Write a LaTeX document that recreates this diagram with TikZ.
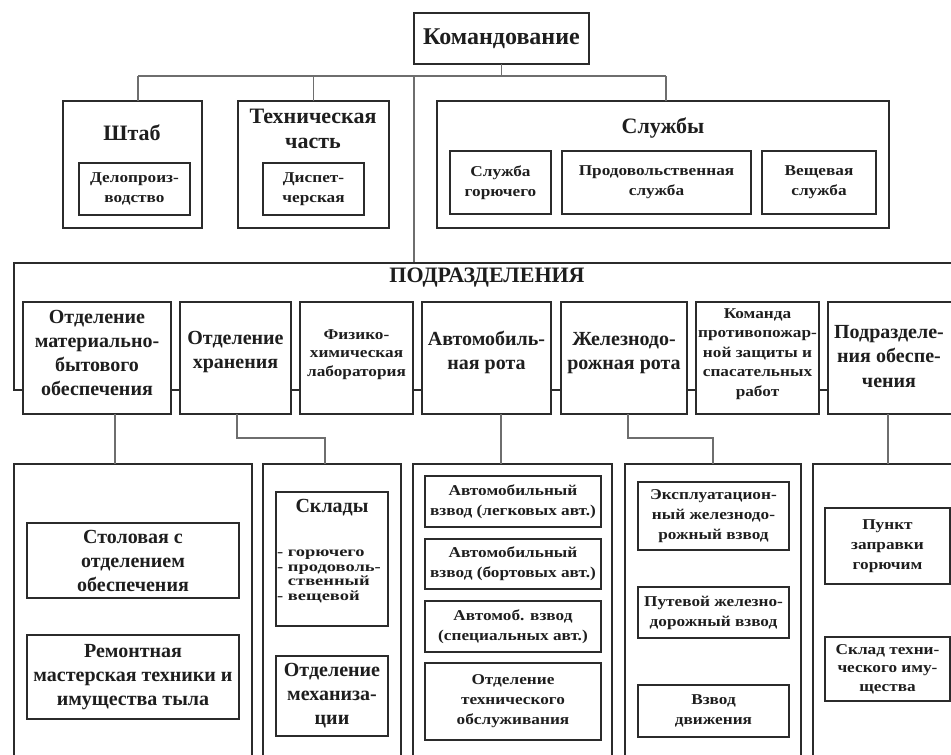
\documentclass[tikz,border=0pt]{standalone}
\usepackage{fontspec}
\setmainfont{Liberation Serif}
\newfontfamily\widefont[FakeStretch=1.15]{Liberation Serif}
\newfontfamily\widerfont[FakeStretch=1.32]{Liberation Serif}
\definecolor{boxc}{HTML}{2B2B2B}
\definecolor{linec}{HTML}{6E6E6E}
\definecolor{txt}{HTML}{1E1E1E}

\tikzset{
  frame/.style={draw=boxc, line width=2.6pt, inner sep=0pt, outer sep=0pt, rectangle},
  conn/.style={draw=linec, line width=1.3pt},
  bar/.style={draw=boxc, line width=2.8pt},
  cmdfont/.style={text=txt, align=center, font=\bfseries\fontsize{24}{28}\selectfont},
  head/.style={text=txt, align=center, inner sep=0pt, font=\bfseries\fontsize{22}{25}\selectfont},
  mid/.style={text=txt, align=center, inner sep=0pt, font=\bfseries\fontsize{20}{24}\selectfont},
  tiny/.style={text=txt, align=center, inner sep=0pt, font=\widefont\bfseries\fontsize{15}{20}\selectfont},
  tinyl/.style={text=txt, align=left, inner sep=0pt, font=\widerfont\bfseries\fontsize{14}{14.5}\selectfont},
}

% rectangle node from its corners: [style]{name}{x1}{y1}{x2}{y2}{text}
\newcommand\boxnode[7][]{%
  \node[frame,#1,minimum width={#5-#3},minimum height={#6-#4}] (#2)
    at ({(#3+#5)/2},{(#4+#6)/2}) {#7};}

\begin{document}
\begin{tikzpicture}[x=1pt,y=-1pt]
\useasboundingbox (0,0) rectangle (951,755);
\fill[white] (0,0) rectangle (951,755);
\clip (0,0) rectangle (951,755);

% --- command level ---
\boxnode[cmdfont]{cmd}{414}{13}{589}{64}{Командование}

% --- staff, technical part, services ---
\boxnode{shtab}{63}{101}{202}{228}{}
\node[head] (shtabt) at (132,133) {Штаб};
\boxnode[tiny]{delo}{79}{163}{190}{215}{Делопроиз-\\водство}

\boxnode{tech}{238}{101}{389}{228}{}
\node[head] (techt) at (313,129) {Техническая\\часть};
\boxnode[tiny]{disp}{263}{163}{364}{215}{Диспет-\\черская}

\boxnode{sluzh}{437}{101}{889}{228}{}
\node[head] (sluzht) at (663,128) {Службы};
\boxnode[tiny]{sgor}{450}{151}{551}{214}{Служба\\горючего}
\boxnode[tiny]{sprod}{562}{151}{751}{214}{Продовольственная\\служба}
\boxnode[tiny]{sveshch}{762}{151}{876}{214}{Вещевая\\служба}

% --- top bus ---
\coordinate (busL) at (138,76);
\coordinate (busR) at (666,76);
\coordinate (trunk) at (414,76);
\draw[conn] (cmd.south) -- (cmd.south |- busL);
\draw[conn] (busL) -- (busR);
\draw[conn] (busL) -- (busL |- shtab.north);
\draw[conn] (tech.north |- busL) -- (tech.north);
\draw[conn] (busR) -- (busR |- sluzh.north);

% --- subdivisions ---
\coordinate (pTL) at (14,263);
\coordinate (pTR) at (975,263);
\coordinate (pBL) at (14,390);
\draw[conn] (trunk) -- (trunk |- pTL);
\node[text=txt, inner sep=0pt, font=\bfseries\fontsize{22}{24}\selectfont] (podr) at (487,278) {ПОДРАЗДЕЛЕНИЯ};

\boxnode{b1}{23}{302}{171}{414}{}
\boxnode{b2}{180}{302}{291}{414}{}
\boxnode{b3}{300}{302}{413}{414}{}
\boxnode{b4}{422}{302}{551}{414}{}
\boxnode{b5}{561}{302}{687}{414}{}
\boxnode{b6}{696}{302}{819}{414}{}
\boxnode{b7}{828}{302}{980}{414}{}

\draw[bar] (pTR) -- (pTL) -- (pBL) -- (pBL -| b1.west);
\foreach \a/\b in {b1/b2,b2/b3,b3/b4,b4/b5,b5/b6,b6/b7}
  \draw[bar] (\a.east |- pBL) -- (\b.west |- pBL);

\node[mid] (b1t) at (97,353) {Отделение\\материально-\\бытового\\обеспечения};
\node[mid] (b2t) at (235.5,352.5) {Отделение\\хранения};
\node[tiny, font=\widefont\bfseries\fontsize{15}{18.5}\selectfont] (b3t) at (356.5,354.5) {Физико-\\химическая\\лаборатория};
\node[mid] (b4t) at (486.5,352.5) {Автомобиль-\\ная рота};
\node[mid] (b5t) at (624,353) {Железнодо-\\рожная рота};
\node[tiny, font=\widefont\bfseries\fontsize{15}{19.5}\selectfont] (b6t) at (757.5,354) {Команда\\противопожар-\\ной защиты и\\спасательных\\работ};
\node[mid, font=\bfseries\fontsize{20}{24.5}\selectfont] (b7t) at (889,356.5) {Подразделе-\\ния обеспе-\\чения};

% --- lower level ---
\boxnode{A}{14}{464}{252}{790}{}
\boxnode{B}{263}{464}{401}{790}{}
\boxnode{C}{413}{464}{612}{790}{}
\boxnode{D}{625}{464}{801}{790}{}
\boxnode{E}{813}{464}{980}{790}{}

\coordinate (k1) at (115,414);
\draw[conn] (k1) -- (k1 |- A.north);
\coordinate (k2) at (237,438);
\coordinate (k2b) at (325,438);
\draw[conn] (k2 |- b2.south) -- (k2) -- (k2b) -- (k2b |- B.north);
\coordinate (k4) at (501,414);
\draw[conn] (k4) -- (k4 |- C.north);
\coordinate (k5) at (628,438);
\coordinate (k5b) at (713,438);
\draw[conn] (k5 |- b5.south) -- (k5) -- (k5b) -- (k5b |- D.north);
\coordinate (k7) at (888,414);
\draw[conn] (k7) -- (k7 |- E.north);

% material support section
\boxnode[mid]{stol}{27}{523}{239}{598}{Столовая с\\отделением\\обеспечения}
\boxnode[mid]{remont}{27}{635}{239}{719}{Ремонтная\\мастерская техники и\\имущества тыла}

% storage section
\boxnode{sklady}{276}{492}{388}{626}{}
\node[mid] (skladyt) at (332,508) {Склады};
\node[tinyl, anchor=west] (skladyl) at (277,576.5) {- горючего\\- продоволь-\\\hphantom{- }ственный\\- вещевой};
\boxnode[mid]{mekh}{276}{656}{388}{736}{Отделение\\механиза-\\ции}

% motor company
\boxnode[tiny]{av1}{425}{476}{601}{527}{Автомобильный\\взвод (легковых авт.)}
\boxnode[tiny]{av2}{425}{539}{601}{589}{Автомобильный\\взвод (бортовых авт.)}
\boxnode[tiny]{av3}{425}{601}{601}{652}{Автомоб. взвод\\(специальных авт.)}
\boxnode[tiny]{av4}{425}{663}{601}{740}{Отделение\\технического\\обслуживания}

% railway company
\boxnode[tiny]{zd1}{638}{482}{789}{550}{Эксплуатацион-\\ный железнодо-\\рожный взвод}
\boxnode[tiny]{zd2}{638}{587}{789}{638}{Путевой железно-\\дорожный взвод}
\boxnode[tiny]{zd3}{638}{685}{789}{737}{Взвод\\движения}

% support subdivisions
\boxnode[tiny]{e1}{825}{508}{950}{584}{Пункт\\заправки\\горючим}
\boxnode[tiny, font=\widefont\bfseries\fontsize{15}{18.5}\selectfont]{e2}{825}{637}{950}{701}{Склад техни-\\ческого иму-\\щества}
\end{tikzpicture}
\end{document}
